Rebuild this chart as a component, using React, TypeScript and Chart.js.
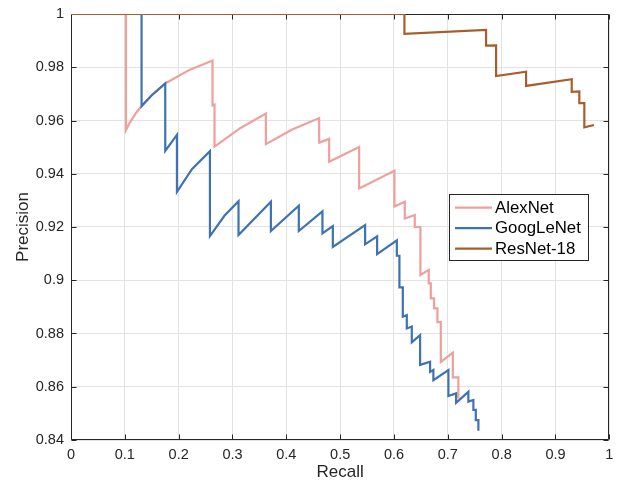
import React, { useEffect, useRef } from 'react';
import { Chart, registerables } from 'chart.js';

Chart.register(...registerables);

// ---- Data ----
const alexRecall = [
  0, 0.1021, 0.1021, 0.108, 0.115, 0.122, 0.1311, 0.15, 0.1751, 0.22, 0.2629, 0.2629, 0.2666, 0.2666,
  0.315, 0.362, 0.362, 0.41, 0.461, 0.461, 0.4796, 0.4796, 0.5353, 0.5353, 0.6008, 0.6008,
  0.6201, 0.6201, 0.6386, 0.6386, 0.6491, 0.6491, 0.6646, 0.6646, 0.6684, 0.6684, 0.6745,
  0.6745, 0.6807, 0.6807, 0.687, 0.687, 0.7093, 0.7093, 0.7196, 0.7196,
];
const alexPrecision = [
  1, 1, 0.9564, 0.9588, 0.961, 0.9632, 0.9654, 0.9695, 0.9739, 0.979, 0.9825, 0.9657, 0.966, 0.9502,
  0.9572, 0.9626, 0.9511, 0.9565, 0.9609, 0.9517, 0.9531, 0.9445, 0.95, 0.9345, 0.9411, 0.9277,
  0.9295, 0.9232, 0.9245, 0.92, 0.92, 0.902, 0.9039, 0.8988, 0.8988, 0.8932, 0.8932,
  0.8894, 0.8894, 0.8843, 0.8843, 0.8693, 0.8728, 0.8635, 0.8635, 0.8556,
];

const googRecall = [
  0, 0.1311, 0.1311, 0.15, 0.1751, 0.1751, 0.1968, 0.1968, 0.225, 0.2581, 0.2581, 0.285,
  0.3112, 0.3112, 0.3713, 0.3713, 0.4232, 0.4232, 0.4671, 0.4671, 0.4864, 0.4864, 0.5464,
  0.5464, 0.5687, 0.5687, 0.6053, 0.6053, 0.6101, 0.6101, 0.6164, 0.6164, 0.6238, 0.6238,
  0.6331, 0.6331, 0.6485, 0.6485, 0.6671, 0.6671, 0.6732, 0.6732, 0.7011, 0.7011, 0.7154,
  0.7154, 0.7382, 0.7382, 0.7475, 0.7475, 0.752, 0.752, 0.7568, 0.7568,
];
const googPrecision = [
  1, 1, 0.9654, 0.9695, 0.9739, 0.9486, 0.9546, 0.9332, 0.9418, 0.9485, 0.9166, 0.9242,
  0.9297, 0.917, 0.9295, 0.9185, 0.928, 0.9185, 0.9259, 0.9176, 0.9203, 0.9125, 0.9207,
  0.9135, 0.9165, 0.9098, 0.915, 0.9092, 0.9092, 0.8973, 0.8973, 0.8863, 0.8869, 0.8819,
  0.8826, 0.8767, 0.8794, 0.8682, 0.8694, 0.8656, 0.8663, 0.8625, 0.8663, 0.8565, 0.8575,
  0.854, 0.8581, 0.8544, 0.855, 0.8513, 0.8513, 0.8475, 0.8475, 0.8435,
];

const resRecall = [
  0, 0.6194, 0.6194, 0.7711, 0.7711, 0.7897, 0.7897, 0.8454, 0.8454, 0.9302, 0.9302,
  0.9443, 0.9443, 0.9536, 0.9536, 0.9716,
];
const resPrecision = [
  1, 1, 0.9925, 0.994, 0.9881, 0.9882, 0.9767, 0.9783, 0.973, 0.9755, 0.9708,
  0.9709, 0.9665, 0.9665, 0.9574, 0.9583,
];

const seriesNames = ['AlexNet', 'GoogLeNet', 'ResNet-18'];
const seriesColors = ['#EF9F9C', '#3E72B0', '#A85D2B'];

const xTickValues = [0, 0.1, 0.2, 0.3, 0.4, 0.5, 0.6, 0.7, 0.8, 0.9, 1];
const xTickLabels = ['0', '0.1', '0.2', '0.3', '0.4', '0.5', '0.6', '0.7', '0.8', '0.9', '1'];
const yTickValues = [0.84, 0.86, 0.88, 0.9, 0.92, 0.94, 0.96, 0.98, 1];
const yTickLabels = ['0.84', '0.86', '0.88', '0.9', '0.92', '0.94', '0.96', '0.98', '1'];

const FONT = "'Liberation Sans', Arial, Helvetica, sans-serif";
const AXIS_COLOR = '#262626';

const toPoints = (xs: number[], ys: number[]) => xs.map((x, i) => ({ x, y: ys[i] }));

const boxPlugin = {
  id: 'matlabBox',
  beforeDatasetsDraw(chart: any) {
    const { ctx, chartArea } = chart;
    const xs = chart.scales.x;
    const ys = chart.scales.y;
    const l = Math.round(chartArea.left) + 0.5;
    const r = Math.round(chartArea.right) - 0.5;
    const t = Math.round(chartArea.top) + 0.5;
    const b = Math.round(chartArea.bottom) - 0.5;
    const tl = 5;
    ctx.save();
    ctx.strokeStyle = AXIS_COLOR;
    ctx.lineWidth = 1;
    ctx.beginPath();
    ctx.rect(l, t, r - l, b - t);
    xTickValues.forEach((v) => {
      const px = Math.round(xs.getPixelForValue(v)) + 0.5;
      ctx.moveTo(px, b);
      ctx.lineTo(px, b - tl);
      ctx.moveTo(px, t);
      ctx.lineTo(px, t + tl);
    });
    yTickValues.forEach((v) => {
      const py = Math.round(ys.getPixelForValue(v)) + 0.5;
      ctx.moveTo(l, py);
      ctx.lineTo(l + tl, py);
      ctx.moveTo(r, py);
      ctx.lineTo(r - tl, py);
    });
    ctx.stroke();
    ctx.restore();
  },
};

const legendPlugin = {
  id: 'insideLegend',
  afterDraw(chart: any) {
    const { ctx, chartArea } = chart;
    ctx.save();
    ctx.font = `16.8px ${FONT}`;
    const maxW = Math.max(...seriesNames.map((n) => ctx.measureText(n).width));
    const left = Math.round(chartArea.left + 378.5) - 0.5;
    const top = Math.round(chartArea.top + 179.5) + 0.5;
    const lineX0 = left + 5.5;
    const lineX1 = left + 42.5;
    const textX = left + 45.5;
    const width = Math.round(45.5 + maxW + 8);
    const height = 66;
    ctx.fillStyle = '#ffffff';
    ctx.fillRect(left, top, width, height);
    ctx.strokeStyle = AXIS_COLOR;
    ctx.lineWidth = 1;
    ctx.strokeRect(left, top, width, height);
    seriesNames.forEach((name, i) => {
      const y = top + 13.2 + i * 20.5;
      ctx.strokeStyle = seriesColors[i];
      ctx.lineWidth = 2.2;
      ctx.beginPath();
      ctx.moveTo(lineX0, y);
      ctx.lineTo(lineX1, y);
      ctx.stroke();
      ctx.fillStyle = '#000000';
      ctx.textBaseline = 'middle';
      ctx.textAlign = 'left';
      ctx.fillText(name, textX, y + 0.5);
    });
    ctx.restore();
  },
};

export default function App() {
  const canvasRef = useRef<HTMLCanvasElement | null>(null);

  useEffect(() => {
    const canvas = canvasRef.current;
    if (!canvas) return;
    const datasetsData = [
      toPoints(alexRecall, alexPrecision),
      toPoints(googRecall, googPrecision),
      toPoints(resRecall, resPrecision),
    ];
    const chart = new Chart(canvas, {
      type: 'scatter',
      data: {
        datasets: datasetsData.map((d, i) => ({
          label: seriesNames[i],
          data: d,
          showLine: true,
          borderColor: seriesColors[i],
          backgroundColor: seriesColors[i],
          borderWidth: 2.2,
          pointRadius: 0,
          pointHoverRadius: 0,
          tension: 0,
          fill: false,
          order: 3 - i,
        })),
      },
      options: {
        animation: false,
        responsive: false,
        maintainAspectRatio: false,
        events: [],
        layout: { padding: { top: 14, right: 7.7, left: 0, bottom: 0 } },
        plugins: {
          legend: { display: false },
          tooltip: { enabled: false },
          title: { display: false },
        },
        scales: {
          x: {
            type: 'linear',
            min: 0,
            max: 1,
            afterBuildTicks: (scale: any) => {
              scale.ticks = xTickValues.map((v) => ({ value: v }));
            },
            afterFit: (scale: any) => {
              scale.height = 41;
              scale.paddingLeft = 0;
              scale.paddingRight = 0;
            },
            ticks: {
              autoSkip: false,
              maxRotation: 0,
              padding: 6,
              color: AXIS_COLOR,
              font: { family: FONT, size: 14.5 },
              callback: (value: any) => {
                const idx = xTickValues.findIndex((v) => Math.abs(v - Number(value)) < 1e-9);
                return idx >= 0 ? xTickLabels[idx] : '';
              },
            },
            grid: { color: '#e3e3e3', lineWidth: 1, drawTicks: false },
            border: { display: false },
            title: {
              display: true,
              text: 'Recall',
              color: AXIS_COLOR,
              font: { family: FONT, size: 17, lineHeight: 0.85 },
              padding: { top: 0, bottom: 1.5 },
            },
          },
          y: {
            type: 'linear',
            min: 0.84,
            max: 1,
            afterBuildTicks: (scale: any) => {
              scale.ticks = yTickValues.map((v) => ({ value: v }));
            },
            afterFit: (scale: any) => {
              scale.width = 71;
              scale.paddingTop = 0;
              scale.paddingBottom = 0;
            },
            ticks: {
              autoSkip: false,
              padding: 7,
              color: AXIS_COLOR,
              font: { family: FONT, size: 14.5 },
              callback: (value: any) => {
                const idx = yTickValues.findIndex((v) => Math.abs(v - Number(value)) < 1e-9);
                return idx >= 0 ? yTickLabels[idx] : '';
              },
            },
            grid: { color: '#e3e3e3', lineWidth: 1, drawTicks: false },
            border: { display: false },
            title: {
              display: true,
              text: 'Precision',
              color: AXIS_COLOR,
              font: { family: FONT, size: 17, lineHeight: 0.85 },
              padding: { top: 16, bottom: 0 },
            },
          },
        },
      },
      plugins: [boxPlugin, legendPlugin],
    } as any);
    return () => {
      chart.destroy();
    };
  }, []);

  return (
    <div style={{ position: 'absolute', left: 0, top: 0, width: 617, height: 481, background: '#ffffff' }}>
      <canvas ref={canvasRef} width={617} height={481} style={{ display: 'block', width: 617, height: 481 }} />
    </div>
  );
}
